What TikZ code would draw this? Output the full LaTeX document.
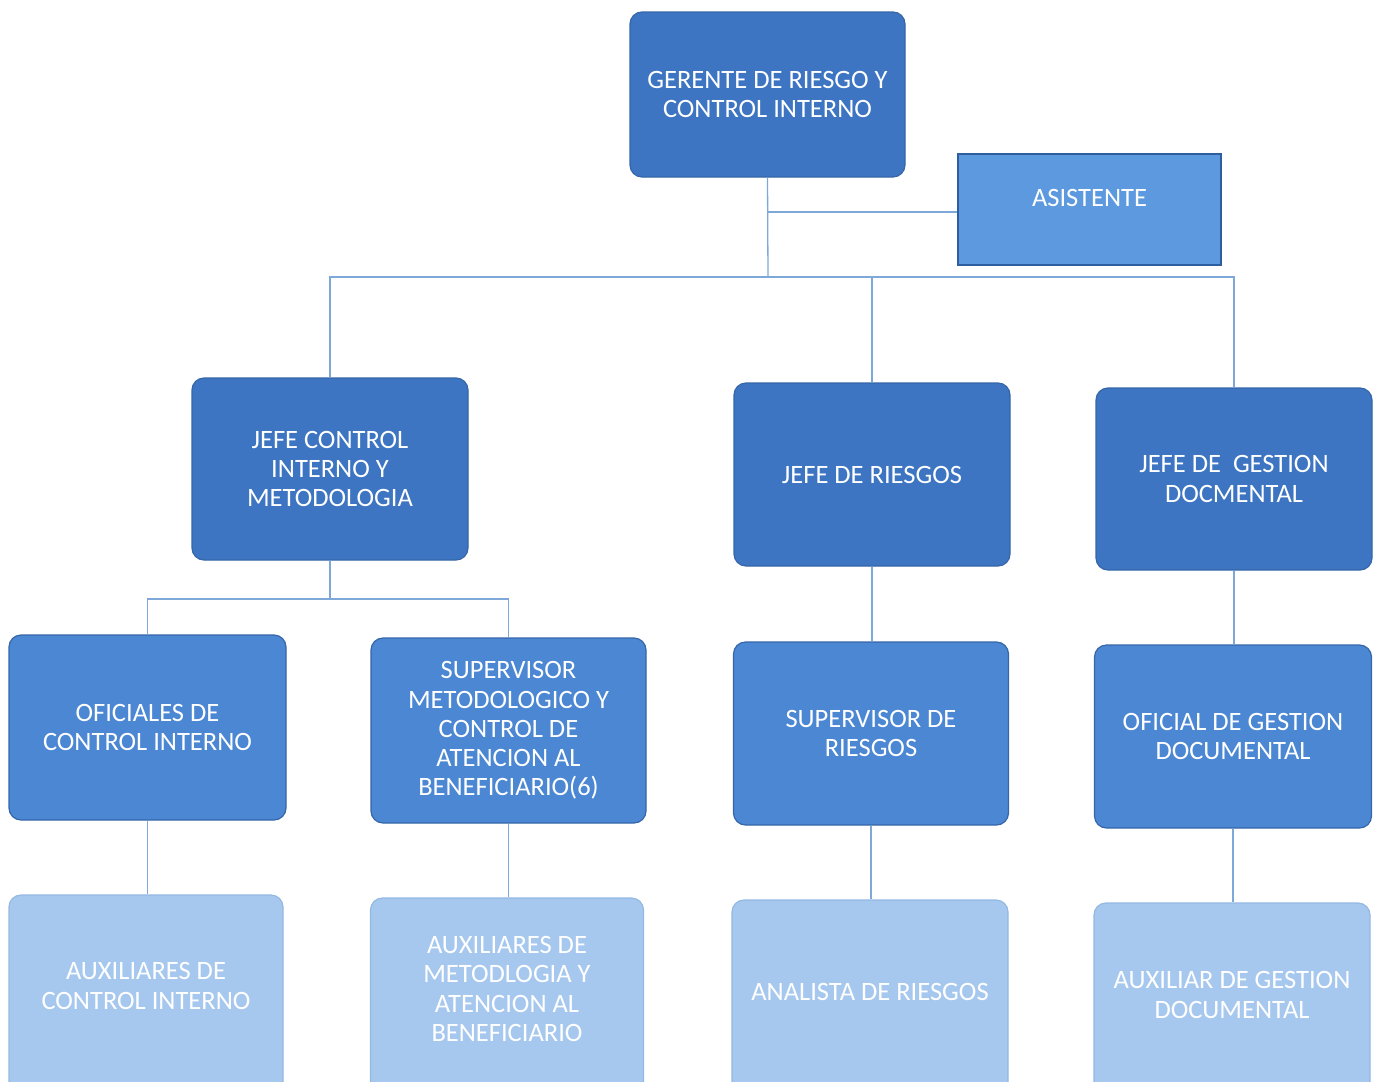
\documentclass[tikz,border=0pt]{standalone}
\usepackage{fontspec}
\setmainfont{Carlito}
\begin{document}
\begin{tikzpicture}[x=1pt,y=-1pt,
  lbl/.style={text=white, align=center, font=\fontsize{26.5}{29.2}\selectfont, inner sep=0pt},
  box/.style={lbl, draw=boxedge, line width=1.2pt, rounded corners=12pt, anchor=center},
  topbox/.style={box, fill=topblue},
  midbox/.style={box, fill=midblue},
  lowbox/.style={box, fill=lowblue, draw=lowedge},
  asbox/.style={box, rounded corners=0pt, fill=asblue, draw=asedge},
  conn/.style={draw=connblue, line width=1.3pt}]
\definecolor{topblue}{HTML}{3D75C2}
\definecolor{midblue}{HTML}{4B87D3}
\definecolor{lowblue}{HTML}{A7C8EE}
\definecolor{asblue}{HTML}{5C99DE}
\definecolor{boxedge}{HTML}{3566A8}
\definecolor{lowedge}{HTML}{93B8E2}
\definecolor{asedge}{HTML}{2F5E9E}
\definecolor{connblue}{HTML}{7EA8D8}
\useasboundingbox (0,0) rectangle (1374,1082);
\clip (0,0) rectangle (1374,1082);
% nodes
\node[topbox, minimum width=275pt, minimum height=165pt] (ger) at (767.5,94.5) {GERENTE DE RIESGO Y\\CONTROL INTERNO};
\node[asbox, minimum width=263pt, minimum height=111pt] (asi) at (1089.5,209.5) {};
\node[lbl] (tasi) at (1089.5,198) {ASISTENTE};
\node[topbox, minimum width=276pt, minimum height=182pt] (jci) at (330,469) {JEFE CONTROL\\INTERNO Y\\METODOLOGIA};
\node[topbox, minimum width=276pt, minimum height=183pt] (jri) at (872,474.5) {JEFE DE RIESGOS};
\node[topbox, minimum width=276pt, minimum height=182pt] (jgd) at (1234,479) {JEFE DE\ \ GESTION\\DOCMENTAL};
\node[midbox, minimum width=277pt, minimum height=185pt] (oci) at (147.5,727.5) {OFICIALES DE\\CONTROL INTERNO};
\node[midbox, minimum width=275pt, minimum height=185pt] (smc) at (508.5,730.5) {SUPERVISOR\\METODOLOGICO Y\\CONTROL DE\\ATENCION AL\\BENEFICIARIO(6)};
\node[midbox, minimum width=275pt, minimum height=183pt] (sri) at (871,733.5) {SUPERVISOR DE\\RIESGOS};
\node[midbox, minimum width=277pt, minimum height=183pt] (ogd) at (1233,736.5) {OFICIAL DE GESTION\\DOCUMENTAL};
\node[lowbox, minimum width=274pt, minimum height=200pt] (aci) at (146,995) {};
\node[lbl] (taci) at (146,986) {AUXILIARES DE\\CONTROL INTERNO};
\node[lowbox, minimum width=273pt, minimum height=200pt] (ama) at (507,998) {};
\node[lbl] (tama) at (507,989) {AUXILIARES DE\\METODLOGIA Y\\ATENCION AL\\BENEFICIARIO};
\node[lowbox, minimum width=276pt, minimum height=200pt] (ana) at (870,1000) {};
\node[lbl] (tana) at (870,992) {ANALISTA DE RIESGOS};
\node[lowbox, minimum width=276pt, minimum height=200pt] (agd) at (1232,1003) {};
\node[lbl] (tagd) at (1232,995) {AUXILIAR DE GESTION\\DOCUMENTAL};
% connectors
\coordinate (b1) at (768,277);
\coordinate (a1) at (768,212);
\coordinate (b2) at (330,599);
\draw[conn] (ger.south) -- (b1);
\draw[conn] (a1) -- (a1 -| asi.west);
\draw[conn] (jci.north) -- (jci.north |- b1) -- (jgd.north |- b1) -- (jgd.north);
\draw[conn] (jri.north |- b1) -- (jri.north);
\draw[conn] (jci.south) -- (b2);
\draw[conn] (oci.north) -- (oci.north |- b2) -- (smc.north |- b2) -- (smc.north);
\draw[conn] (oci.south) -- (oci.south |- aci.north);
\draw[conn] (smc.south) -- (smc.south |- ama.north);
\draw[conn] (jri.south) -- (jri.south |- sri.north);
\draw[conn] (sri.south) -- (sri.south |- ana.north);
\draw[conn] (jgd.south) -- (jgd.south |- ogd.north);
\draw[conn] (ogd.south) -- (ogd.south |- agd.north);
\end{tikzpicture}
\end{document}
